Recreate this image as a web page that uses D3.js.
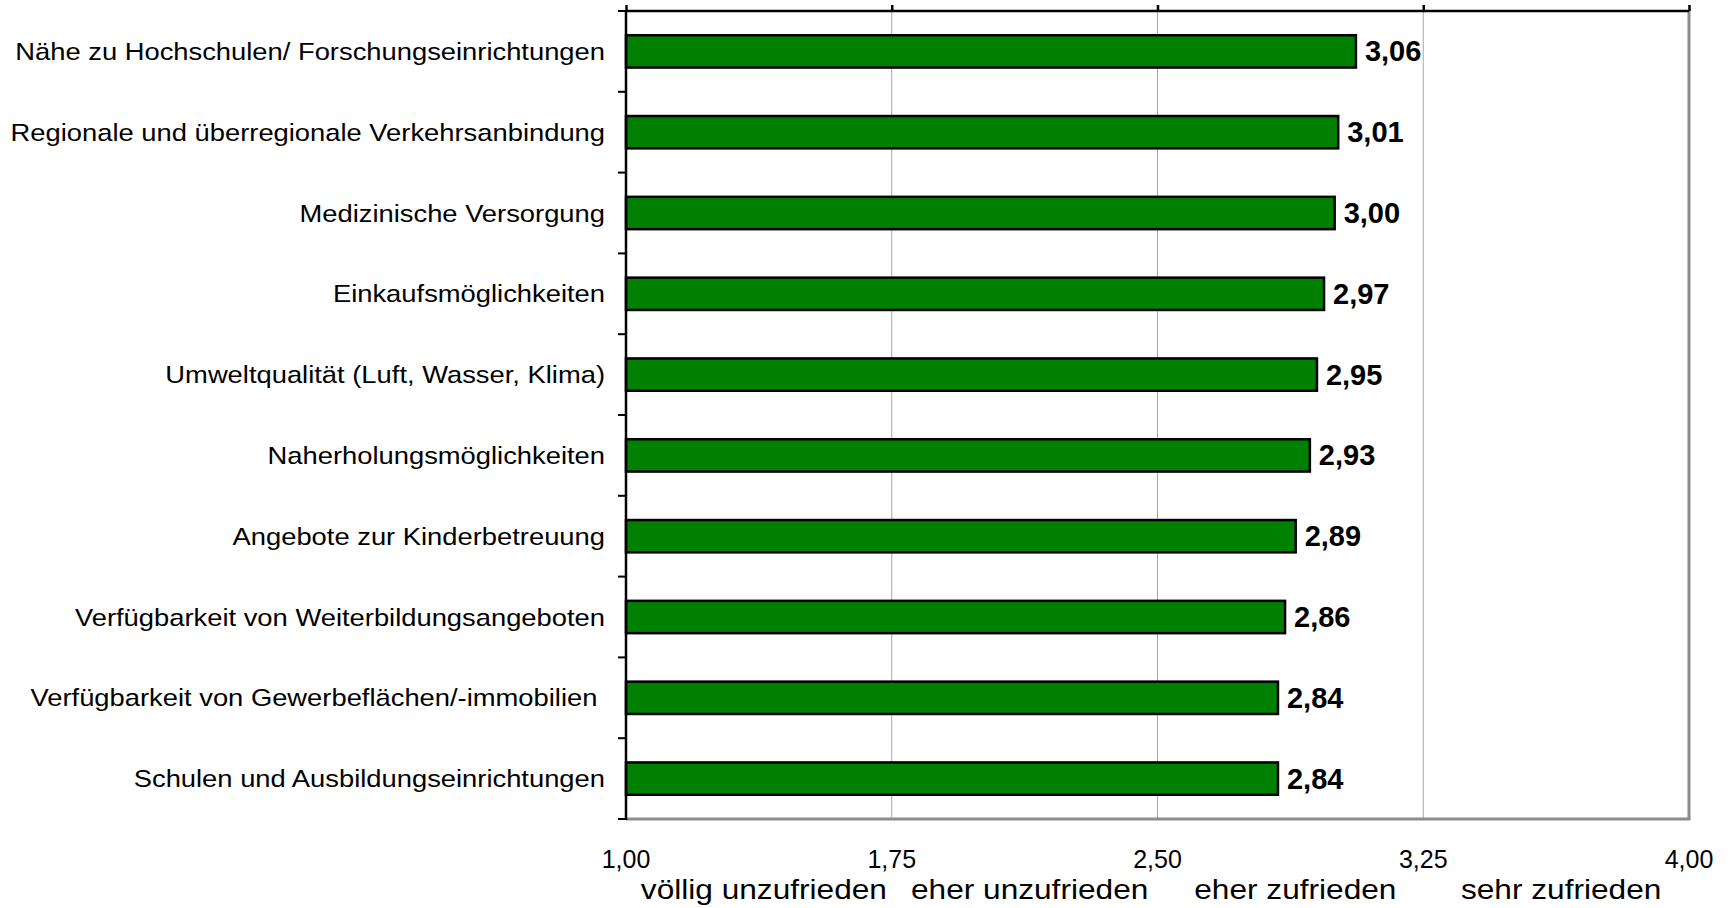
<!DOCTYPE html>
<html>
<head>
<meta charset="utf-8">
<script src="https://cdn.jsdelivr.net/npm/d3@7"></script>
<style>
  html, body { margin: 0; padding: 0; background: #fff; }
  svg { display: block; font-family: "Liberation Sans", Arial, sans-serif; }
</style>
</head>
<body>
<svg id="chart" width="1731" height="908"></svg>
<script>
const categories = [
  "Nähe zu Hochschulen/ Forschungseinrichtungen",
  "Regionale und überregionale Verkehrsanbindung",
  "Medizinische Versorgung",
  "Einkaufsmöglichkeiten",
  "Umweltqualität (Luft, Wasser, Klima)",
  "Naherholungsmöglichkeiten",
  "Angebote zur Kinderbetreuung",
  "Verfügbarkeit von Weiterbildungsangeboten",
  "Verfügbarkeit von Gewerbeflächen/-immobilien ",
  "Schulen und Ausbildungseinrichtungen"
];
const values = [3.06, 3.01, 3.00, 2.97, 2.95, 2.93, 2.89, 2.86, 2.84, 2.84];
const tickValues = [1.00, 1.75, 2.50, 3.25, 4.00];
const tickLabels = ["1,00", "1,75", "2,50", "3,25", "4,00"];
const scaleLabels = ["völlig unzufrieden", "eher unzufrieden", "eher zufrieden", "sehr zufrieden"];

(function () {
const svg = d3.select("#chart");
const pL = 626, pR = 1689, pT = 11, pB = 819;

const x = d3.scaleLinear().domain([1, 4]).range([pL, pR]);
const y = d3.scaleBand().domain(categories).range([pT, pB]).paddingInner(0.6).paddingOuter(0.3);

// gridlines
svg.append("g").selectAll("line").data(tickValues.slice(1, -1)).join("line")
  .attr("x1", d => x(d)).attr("x2", d => x(d))
  .attr("y1", pT).attr("y2", pB)
  .attr("stroke", "#a6a6a6").attr("stroke-width", 1);

// right border & bottom axis (gray)
svg.append("line").attr("x1", pR).attr("x2", pR).attr("y1", pT).attr("y2", pB)
  .attr("stroke", "#8c8c8c").attr("stroke-width", 3);
svg.append("line").attr("x1", pL).attr("x2", pR + 1.5).attr("y1", pB).attr("y2", pB)
  .attr("stroke", "#8c8c8c").attr("stroke-width", 3);

// top axis (black) with small upward ticks
const topAxis = d3.axisTop(x).tickValues(tickValues).tickSize(6).tickFormat("");
const gTop = svg.append("g").attr("transform", `translate(0,${pT})`).call(topAxis);
gTop.select(".domain").attr("d", `M${pL},0H${pR}`).attr("stroke", "#000").attr("stroke-width", 2.5);
gTop.selectAll(".tick line").attr("stroke", "#000").attr("stroke-width", 2.5);

// bars
svg.append("g").selectAll("rect").data(categories).join("rect")
  .attr("x", x(1))
  .attr("y", d => y(d))
  .attr("width", (d, i) => x(values[i]) - x(1))
  .attr("height", y.bandwidth())
  .attr("fill", "#008000")
  .attr("stroke", "#000")
  .attr("stroke-width", 2.5);

// left axis with ticks at band boundaries
const step = y.step();
const boundaries = d3.range(categories.length + 1).map(i => pT + i * step);
svg.append("g").selectAll("line").data(boundaries).join("line")
  .attr("x1", pL - 8).attr("x2", pL)
  .attr("y1", d => d).attr("y2", d => d)
  .attr("stroke", "#000").attr("stroke-width", 2);
svg.append("line").attr("x1", pL).attr("x2", pL).attr("y1", pT - 1).attr("y2", pB + 1)
  .attr("stroke", "#000").attr("stroke-width", 2.5);

// category labels
svg.append("g").selectAll("text").data(categories).join("text")
  .attr("transform", d => `translate(605,${y(d) + y.bandwidth() / 2 + 8.5}) scale(1.14,1)`)
  .attr("text-anchor", "end")
  .style("white-space", "pre")
  .attr("font-size", 24)
  .attr("fill", "#000")
  .text(d => d);

// value labels
svg.append("g").selectAll("text").data(categories).join("text")
  .attr("x", (d, i) => x(values[i]) + 9)
  .attr("y", d => y(d) + y.bandwidth() / 2 + 10)
  .attr("font-size", 29)
  .attr("font-weight", "bold")
  .attr("fill", "#000")
  .text((d, i) => values[i].toFixed(2).replace(".", ","));

// x tick labels
svg.append("g").selectAll("text").data(tickValues).join("text")
  .attr("x", d => x(d))
  .attr("y", 868)
  .attr("text-anchor", "middle")
  .attr("font-size", 25)
  .attr("fill", "#000")
  .text((d, i) => tickLabels[i]);

// scale labels between ticks
svg.append("g").selectAll("text").data(scaleLabels).join("text")
  .attr("transform", (d, i) => `translate(${(x(tickValues[i]) + x(tickValues[i + 1])) / 2 + 5},899) scale(1.13,1)`)
  .attr("text-anchor", "middle")
  .attr("font-size", 28)
  .attr("fill", "#000")
  .text(d => d);
})();
</script>
</body>
</html>
